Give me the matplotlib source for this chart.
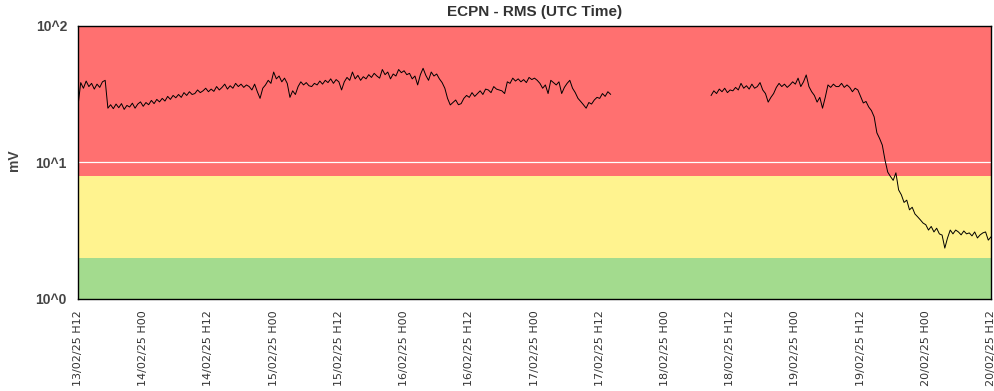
import numpy as np
import pandas as pd
import matplotlib
matplotlib.use('Agg')
from matplotlib import pyplot as plt
from matplotlib.ticker import FixedLocator, NullLocator

# RMS readings (mV), one every 30 min
START_1 = '2025-02-13 12:00'
rms_1 = [
    26.0, 38.5, 35.0, 39.5, 36.0, 38.0, 34.5, 37.5, 35.5, 39.0,
    40.0, 25.0, 26.5, 24.8, 26.8, 25.2, 27.0, 24.5, 26.2, 25.5,
    27.2, 25.0, 26.8, 27.8, 25.8, 27.5, 26.5, 28.5, 27.0, 29.0,
    27.8, 29.5, 28.2, 30.5, 29.0, 31.0, 29.8, 31.5, 30.0, 32.5,
    31.0, 33.0, 31.5, 32.0, 34.0, 32.5, 33.5, 35.0, 33.0, 34.5,
    33.2, 36.0, 34.0, 35.5, 37.5, 34.5, 36.5, 35.0, 38.0, 36.0,
    37.5, 35.5, 37.0, 36.0, 34.0, 37.5, 33.0, 29.5, 35.0, 37.0,
    40.0, 38.0, 46.0, 41.0, 43.0, 39.0, 41.5, 38.0, 30.0, 33.5,
    31.5, 36.0, 39.0, 37.0, 38.5, 36.5, 36.0, 38.0, 37.0, 39.5,
    37.5, 40.0, 38.5, 41.0, 38.0, 40.5, 39.0, 34.0, 39.0, 42.0,
    40.0, 46.0, 41.0, 43.5, 40.0, 42.5, 41.0, 44.0, 42.0, 45.0,
    43.0, 41.5, 48.0, 44.0, 46.0, 41.0, 44.5, 43.0, 48.0, 45.5,
    47.0, 44.0, 45.0, 41.0, 43.0, 37.0, 44.0, 49.0, 43.5, 40.0,
    46.0, 43.0, 44.5, 41.0, 38.5, 35.0, 29.5, 26.4, 27.5, 28.7,
    26.5, 27.0, 29.5, 31.0, 30.0, 32.5, 30.5, 32.0, 33.5, 31.5,
    34.5, 34.0, 32.5, 36.0, 34.5, 34.0, 33.5, 32.0, 39.0, 38.0,
    41.5, 39.5, 41.0, 39.0, 40.5, 38.5, 42.0, 40.5, 41.5, 40.0,
    38.0, 35.0, 37.0, 32.0, 40.0, 38.5, 37.0, 39.0, 32.0, 35.5,
    38.0, 40.0, 35.0, 32.5, 29.5, 28.0, 26.5, 25.0, 27.5, 26.8,
    28.7, 30.0, 29.5, 32.0, 30.5, 33.0, 31.6,
]

START_2 = '2025-02-18 08:30'
rms_2 = [
    31.0, 33.5, 32.0, 34.5, 33.0, 35.0, 32.5, 34.0, 33.5, 35.5,
    34.0, 38.0, 35.0, 36.5, 34.5, 37.5, 35.0, 36.0, 38.5, 34.0,
    32.0, 27.7, 30.0, 32.0, 35.5, 38.0, 36.0, 37.5, 35.5, 37.0,
    39.0, 37.5, 41.5, 36.0, 39.0, 43.8, 36.0, 33.0, 31.0, 27.7,
    30.0, 25.0, 30.0, 37.0, 35.5, 37.5, 36.0, 36.0, 38.0, 35.5,
    37.0, 35.5, 33.0, 35.0, 34.0, 30.5, 27.3, 28.0, 25.5, 24.0,
    21.6, 16.5, 15.0, 13.4, 10.4, 8.5, 7.9, 7.4, 8.4, 6.3,
    5.8, 5.1, 5.3, 4.5, 4.7, 4.2, 4.0, 3.8, 3.6, 3.5,
    3.2, 3.4, 3.1, 3.3, 3.0, 2.94, 2.36, 2.8, 3.2, 3.0,
    3.2, 3.1, 2.95, 3.15, 3.0, 3.05, 2.9, 3.1, 2.8, 2.95,
    3.05, 3.1, 2.7, 2.85,
]

# alert levels (mV)
LEVELS = [1, 2, 8, 100]
LEVEL_COLORS = ['#a3db8e', '#fff38f', '#ff7070']

t1 = pd.date_range(START_1, periods=len(rms_1), freq='30min')
t2 = pd.date_range(START_2, periods=len(rms_2), freq='30min')
ticks = pd.date_range('2025-02-13 12:00', '2025-02-20 12:00', freq='12h')

fig = plt.figure(figsize=(9.95, 3.91), dpi=100)
ax = fig.add_axes([78 / 995, 1 - 299 / 391, 913 / 995, 273 / 391])

for lo, hi, c in zip(LEVELS[:-1], LEVELS[1:], LEVEL_COLORS):
    ax.axhspan(lo, hi, color=c, lw=0, zorder=0)
ax.axhline(10, color='white', lw=0.9, zorder=1)

ax.plot(t1, rms_1, color='black', lw=0.7, zorder=2)
ax.plot(t2, rms_2, color='black', lw=0.7, zorder=2)

ax.set_yscale('log')
ax.set_ylim(1, 100)
ax.set_xlim(ticks[0], ticks[-1])
ax.yaxis.set_major_locator(FixedLocator([1, 10, 100]))
ax.yaxis.set_minor_locator(NullLocator())
ax.set_yticklabels(['10^0', '10^1', '10^2'], fontsize=10, fontweight='bold',
                   color='#444444', family='Liberation Sans')
ax.set_xticks(ticks)
ax.set_xticklabels([d.strftime('%d/%m/%y H%H') for d in ticks], rotation=90,
                   fontsize=8, color='#333333', family='DejaVu Sans')
ax.tick_params(axis='both', length=0)
ax.tick_params(axis='x', pad=8)
ax.tick_params(axis='y', pad=8)

for s in ax.spines.values():
    s.set_color('black')
    s.set_linewidth(1.0)

fig.text(14 / 995, 1 - 160 / 391, 'mV', rotation=90, ha='center', va='center',
         fontsize=10, fontweight='bold', color='#444444', family='Liberation Sans')
fig.text(0.5 * (78 + 991) / 995, 1 - 12 / 391, 'ECPN - RMS (UTC Time)', ha='center', va='center',
         fontsize=11, fontweight='bold', color='#333333', family='Liberation Sans')

plt.savefig('out.png', dpi=100)
